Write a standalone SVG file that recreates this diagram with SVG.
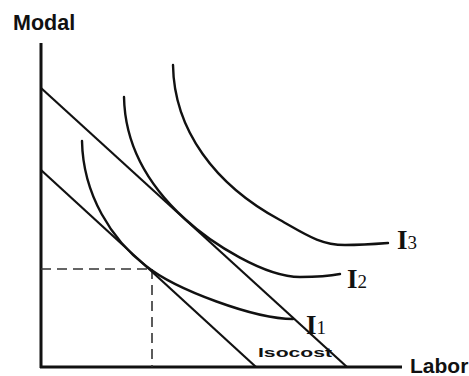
<svg xmlns="http://www.w3.org/2000/svg" width="469" height="376" viewBox="0 0 469 376">
<style>
.axis{stroke:#111;stroke-width:3;fill:none}
.line{stroke:#111;stroke-width:2.2;fill:none}
.curve{stroke:#111;stroke-width:2.4;fill:none;stroke-linecap:round}
.dash{stroke:#333;stroke-width:1.6;fill:none;stroke-dasharray:10 6}
.lab{font-family:"Liberation Sans",Arial,sans-serif;font-weight:bold;fill:#111}
.ilab{font-family:"Liberation Serif","Times New Roman",serif;font-weight:bold;fill:#111}
</style>
<rect width="469" height="376" fill="#fff"/>
<g id="axes">
<line class="axis" x1="41" y1="43" x2="41" y2="368"/>
<line class="axis" x1="40" y1="367" x2="402" y2="367"/>
<text class="lab" x="13" y="30" font-size="21.5">Modal</text>
<text class="lab" x="410" y="373" font-size="21">Labor</text>
</g>
<g id="connectors">
<line class="dash" x1="41" y1="269" x2="152" y2="269"/>
<line class="dash" x1="152" y1="269" x2="152" y2="367"/>
</g>
<g id="isocost-low">
<line class="line" x1="41" y1="170" x2="256" y2="367"/>
</g>
<g id="isocost-high">
<line class="line" x1="41" y1="88" x2="347" y2="367"/>
<text class="lab" x="258" y="357" font-size="13" textLength="74" lengthAdjust="spacingAndGlyphs">Isocost</text>
</g>
<g id="I1">
<path class="curve" d="M82,141 C83,195 112,240 146,266 C176,290 255,319 293,319"/>
<text class="ilab" x="306" y="334" font-size="27">I<tspan font-size="19" font-weight="normal">1</tspan></text>
</g>
<g id="I2">
<path class="curve" d="M124,97 C125,150 152,189 185,219 C212,244 265,277 300,277 C315,277 330,276 340,274"/>
<text class="ilab" x="347" y="288" font-size="27">I<tspan font-size="19" font-weight="normal">2</tspan></text>
</g>
<g id="I3">
<path class="curve" d="M173,65 C174,130 215,185 280,220 C305,234 320,245 345,245 C360,245 375,244 388,243"/>
<text class="ilab" x="397" y="249" font-size="27">I<tspan font-size="19" font-weight="normal">3</tspan></text>
</g>
</svg>
